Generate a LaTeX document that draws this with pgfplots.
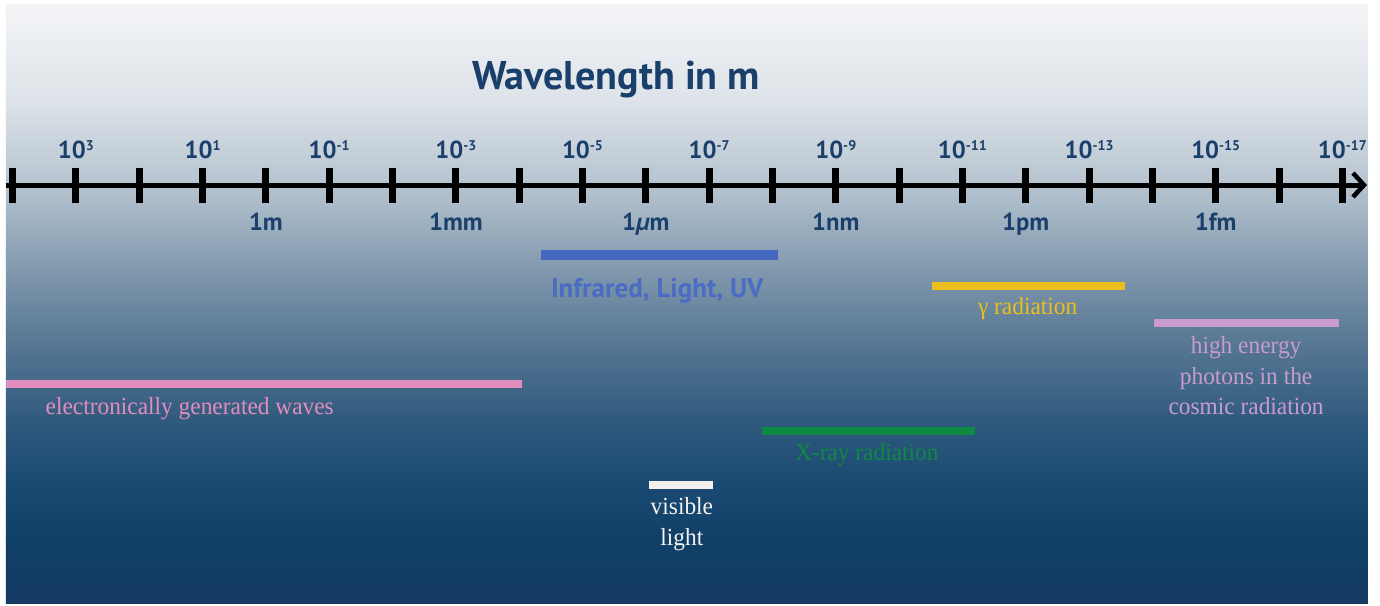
\documentclass[border=0pt]{standalone}
\usepackage{pgfplots}
\pgfplotsset{compat=1.18}
\usepackage{fontspec}
\setmainfont{Liberation Serif}
\newfontfamily\sans{PT Sans}
\newfontfamily\ser[FakeStretch=0.95]{Liberation Serif}
\usetikzlibrary{arrows.meta}
\definecolor{navy}{HTML}{1A3F6A}
\definecolor{barblue}{HTML}{4468C0}
\definecolor{txtblue}{HTML}{4A6CC4}
\definecolor{baryellow}{HTML}{ECBE1E}
\definecolor{barlilac}{HTML}{C99BD0}
\definecolor{barpink}{HTML}{E38CBE}
\definecolor{bargreen}{HTML}{0F8A42}
\definecolor{barwhite}{HTML}{F5F1EF}
\definecolor{g0}{HTML}{F4F5F7}
\definecolor{g1}{HTML}{DDE3E9}
\definecolor{g2}{HTML}{B5C3CF}
\definecolor{g3}{HTML}{8DA2B5}
\definecolor{g4}{HTML}{5D7C97}
\definecolor{g5}{HTML}{305A7E}
\definecolor{g6}{HTML}{1B4A72}
\definecolor{g7}{HTML}{0F3F67}
\definecolor{g8}{HTML}{153A63}
\newcommand\sups[1]{\raisebox{2.1pt}{\fontsize{4}{4}\selectfont #1}}
\tikzset{
  axlab/.style={anchor=base, text=navy, inner sep=0pt, font=\sans\bfseries\fontsize{7}{8}\selectfont},
  rlab/.style={anchor=base, inner sep=0pt, font=\ser\fontsize{7}{8}\selectfont},
}
\begin{document}
\begin{tikzpicture}
\begin{axis}[
  scale only axis, width=13.8cm, height=6.05cm,
  xmin=-4.199, xmax=17.595, ymin=0, ymax=605, y dir=reverse,
  hide axis, clip=false,
]
% background
\fill[white] (axis cs:-4.199,0) rectangle (axis cs:17.595,605);
\shade[top color=g0, bottom color=g1, draw=none] (axis cs:-4.105,4) rectangle (axis cs:17.405,101);
\shade[top color=g1, bottom color=g2, draw=none] (axis cs:-4.105,100) rectangle (axis cs:17.405,186);
\shade[top color=g2, bottom color=g3, draw=none] (axis cs:-4.105,185) rectangle (axis cs:17.405,251);
\shade[top color=g3, bottom color=g4, draw=none] (axis cs:-4.105,250) rectangle (axis cs:17.405,331);
\shade[top color=g4, bottom color=g5, draw=none] (axis cs:-4.105,330) rectangle (axis cs:17.405,421);
\shade[top color=g5, bottom color=g6, draw=none] (axis cs:-4.105,420) rectangle (axis cs:17.405,481);
\shade[top color=g6, bottom color=g7, draw=none] (axis cs:-4.105,480) rectangle (axis cs:17.405,541);
\shade[top color=g7, bottom color=g8, draw=none] (axis cs:-4.105,540) rectangle (axis cs:17.405,603);

% title
\node[anchor=base, inner sep=0pt, text=navy, font=\sans\bfseries\fontsize{11.4}{13}\selectfont] at (axis cs:5.53,89) {Wavelength in m};

% main axis line with arrow
\addplot[black, line width=0.5mm, -{Straight Barb[length=1.1mm,width=2.4mm,line width=0.45mm]}]
  coordinates {(-4.105,185) (17.39,185)};
% ticks (one per decade, x = -log10 of wavelength in m)
\addplot[only marks, mark=|, mark size=1.75mm, mark options={line width=0.7mm, black}]
  coordinates {(-4,185) (-3,185) (-2,185) (-1,185) (0,185) (1,185) (2,185) (3,185)
               (4,185) (5,185) (6,185) (7,185) (8,185) (9,185) (10,185) (11,185)
               (12,185) (13,185) (14,185) (15,185) (16,185) (17,185)};

% exponent labels
\node[axlab] at (axis cs:-3,158) {10\sups{3}};
\node[axlab] at (axis cs:-1,158) {10\sups{1}};
\node[axlab] at (axis cs:1,158) {10\sups{-1}};
\node[axlab] at (axis cs:3,158) {10\sups{-3}};
\node[axlab] at (axis cs:5,158) {10\sups{-5}};
\node[axlab] at (axis cs:7,158) {10\sups{-7}};
\node[axlab] at (axis cs:9,158) {10\sups{-9}};
\node[axlab] at (axis cs:11,158) {10\sups{-11}};
\node[axlab] at (axis cs:13,158) {10\sups{-13}};
\node[axlab] at (axis cs:15,158) {10\sups{-15}};
\node[axlab] at (axis cs:17,158) {10\sups{-17}};
% unit labels
\node[axlab] at (axis cs:0,230) {1m};
\node[axlab] at (axis cs:3,230) {1mm};
\node[axlab] at (axis cs:6,230) {1\textit{µ}m};
\node[axlab] at (axis cs:9,230) {1nm};
\node[axlab] at (axis cs:12,230) {1pm};
\node[axlab] at (axis cs:15,230) {1fm};

% ranges
\addplot[barblue, line width=1.0mm] coordinates {(4.35,255) (8.09,255)};
\addplot[baryellow, line width=0.8mm] coordinates {(10.52,286) (13.57,286)};
\addplot[barlilac, line width=0.8mm] coordinates {(14.03,323) (16.95,323)};
\addplot[barpink, line width=0.8mm] coordinates {(-4.105,384) (4.05,384)};
\addplot[bargreen, line width=0.8mm] coordinates {(7.83,431) (11.2,431)};
\addplot[barwhite, line width=0.8mm] coordinates {(6.05,485) (7.06,485)};

% range labels
\node[anchor=base, inner sep=0pt, text=txtblue, font=\sans\bfseries\fontsize{7.7}{9}\selectfont] at (axis cs:6.18,297) {Infrared, Light, UV};
\node[rlab, text=baryellow] at (axis cs:12.03,314) {γ radiation};
\node[rlab, text=barlilac] at (axis cs:15.48,353) {high energy};
\node[rlab, text=barlilac] at (axis cs:15.48,384) {photons in the};
\node[rlab, text=barlilac] at (axis cs:15.48,414) {cosmic radiation};
\node[rlab, text=barpink, anchor=base west] at (axis cs:-3.489,414) {electronically generated waves};
\node[rlab, text=bargreen] at (axis cs:9.49,460) {X-ray radiation};
\node[rlab, text=barwhite] at (axis cs:6.57,514) {visible};
\node[rlab, text=barwhite] at (axis cs:6.57,545) {light};
\end{axis}
\end{tikzpicture}
\end{document}
